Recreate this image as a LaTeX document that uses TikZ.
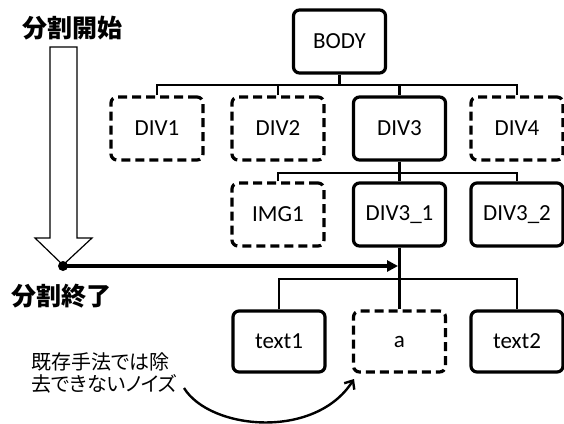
\documentclass[tikz,border=0pt]{standalone}
\usepackage{fontspec}
\setmainfont{Carlito}
\newfontfamily\jpfont{Noto Sans CJK JP}
\newfontfamily\jpnoise[RawFeature=+palt]{Noto Sans CJK JP}
\usetikzlibrary{arrows.meta}
\begin{document}
\begin{tikzpicture}[x=1pt,y=-1pt,
  box/.style={draw, line width=3.2pt, rounded corners=6pt, minimum width=92pt,
    minimum height=63pt, inner sep=0pt, font=\fontsize{23}{27}\selectfont},
  dbox/.style={box, dash pattern=on 9pt off 5pt},
  conn/.style={line width=2.8pt},
  jplabel/.style={font=\jpfont\bfseries\fontsize{25}{28}\selectfont, inner sep=0pt},
]
\useasboundingbox (0,0) rectangle (564,423);

% nodes
\node[box]  (body)  at (339.5,41.5)  {BODY};
\node[dbox] (div1)  at (157,128.5)   {DIV1};
\node[dbox] (div2)  at (278,128.5)   {DIV2};
\node[box]  (div3)  at (399.5,128.5) {DIV3};
\node[dbox] (div4)  at (517,128.5)   {DIV4};
\node[dbox] (img1)  at (278,214.5)   {IMG1};
\node[box]  (div31) at (399.5,214.5) {DIV3\_1};
\node[box]  (div32) at (517,214.5)   {DIV3\_2};
\node[box, minimum height=61pt]  (text1) at (279,341.5)   {text1};
\node[dbox, minimum height=61pt] (a)     at (399.5,341.5) {a};
\node[box, minimum height=61pt]  (text2) at (517,341.5)   {text2};

% buses
\coordinate (bus1) at (0,85);
\coordinate (bus2) at (0,173);
\coordinate (bus3) at (0,279);
\draw[conn] (body.south) -- (body.south |- bus1);
\draw[conn] (div1.north) -- (div1.north |- bus1) -- (div4.north |- bus1) -- (div4.north);
\draw[conn] (div2.north) -- (div2.north |- bus1);
\draw[conn] (div3.north) -- (div3.north |- bus1);

\draw[conn] (div3.south) -- (div3.south |- bus2);
\draw[conn] (img1.north) -- (img1.north |- bus2) -- (div32.north |- bus2) -- (div32.north);
\draw[conn] (div31.north) -- (div31.north |- bus2);

\draw[conn] (div31.south) -- (div31.south |- bus3);
\draw[conn] (text1.north) -- (text1.north |- bus3) -- (text2.north |- bus3) -- (text2.north);
\draw[conn] (a.north) -- (a.north |- bus3);

% hollow arrow
\draw[line width=1.2pt, line join=miter] (50,47) -- (77,47) -- (77,238) -- (92,238) -- (63,265)
  -- (35,238) -- (50,238) -- cycle;
\coordinate (endpt) at (63,266);
\fill (endpt) circle (5pt);
\draw[line width=3.2pt, -{Triangle[length=11pt,width=11pt]}, shorten >=1.5pt]
  (endpt) -- (endpt -| div31.south);

% labels
\node[jplabel] (start) at (72,28)  {分割開始};
\node[jplabel] (stop)  at (61,296) {分割終了};
\node[font=\jpnoise\fontsize{20}{22}\selectfont, align=left, inner sep=0pt, anchor=west]
  (noise) at (31,373) {既存手法では除\\去できないノイズ};

% noise arrow
\coordinate (cs) at (184,388);
\coordinate (ce) at (354,379);
\draw[line width=2.4pt, -{Straight Barb[length=7pt,width=12pt]}]
  (cs) .. controls (210,430) and (315,440) .. (ce);
\end{tikzpicture}
\end{document}
